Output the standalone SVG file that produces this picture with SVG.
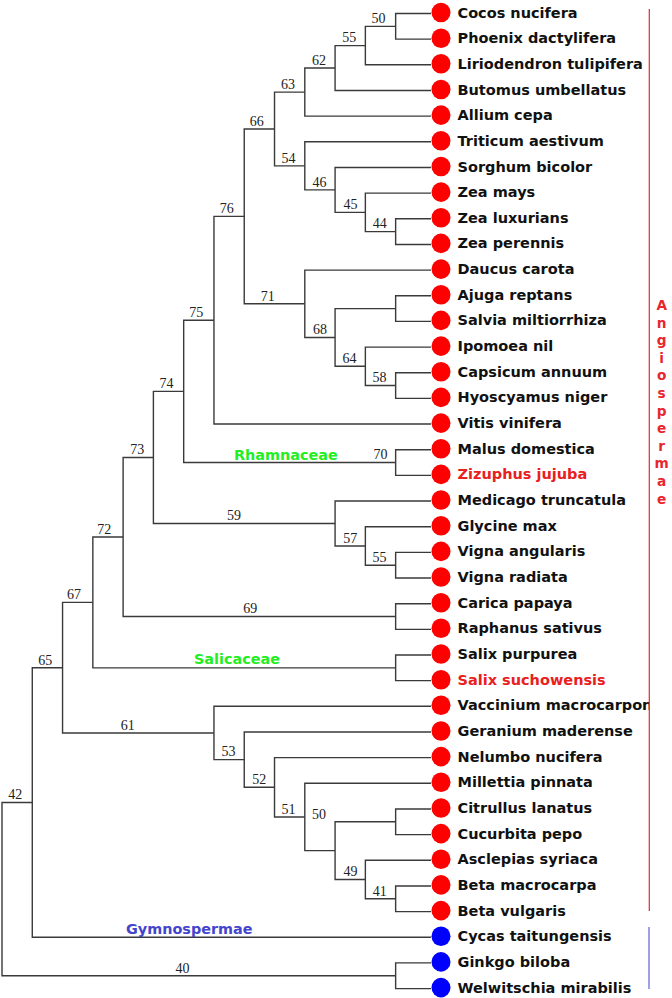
<svg xmlns="http://www.w3.org/2000/svg" width="672" height="998" viewBox="0 0 672 998">
<style>
.br{fill:none;stroke:#3a3a3a;stroke-width:1.4}
.lf{font-family:"DejaVu Sans",Verdana,sans-serif;font-weight:bold;font-size:14.5px;fill:#111}
.hl{fill:#e82020}
.r{fill:#ff0000}
.b{fill:#0000ff}
.bs{font-family:"Liberation Serif","Times New Roman",serif;font-size:14px;fill:#222;text-anchor:middle}
.grp{font-family:"DejaVu Sans",Verdana,sans-serif;font-weight:bold;font-size:14.4px}
.ang{font-family:"DejaVu Sans",Verdana,sans-serif;font-weight:bold;font-size:13.7px;fill:#e8262e;text-anchor:middle}
</style>
<defs>
<clipPath id="cutR"><rect x="0" y="0" width="649" height="998"/></clipPath>
</defs>
<rect width="672" height="998" fill="#fff"/>
<g id="connectors">
<path class="br" d="M431 13.5 H395.64 V39.16 H431"/>
<path class="br" d="M395.64 26.33 H365.36 V64.82 H431"/>
<path class="br" d="M365.36 45.58 H335.08 V90.48 H431"/>
<path class="br" d="M335.08 68.03 H304.8 V116.14 H431"/>
<path class="br" d="M431 218.78 H395.64 V244.44 H431"/>
<path class="br" d="M431 193.12 H365.36 V231.61 H395.64"/>
<path class="br" d="M431 167.46 H335.08 V212.37 H365.36"/>
<path class="br" d="M431 141.8 H304.8 V189.91 H335.08"/>
<path class="br" d="M304.8 92.08 H274.52 V165.86 H304.8"/>
<path class="br" d="M431 372.74 H395.64 V398.4 H431"/>
<path class="br" d="M431 347.08 H365.36 V385.57 H395.64"/>
<path class="br" d="M431 295.76 H395.64 V321.42 H431"/>
<path class="br" d="M395.64 308.59 H335.08 V366.32 H365.36"/>
<path class="br" d="M431 270.1 H304.8 V337.46 H335.08"/>
<path class="br" d="M274.52 128.97 H244.24 V303.78 H304.8"/>
<path class="br" d="M244.24 216.37 H213.96 V424.06 H431"/>
<path class="br" d="M431 449.72 H395.64 V475.38 H431"/>
<path class="br" d="M213.96 320.22 H183.68 V462.55 H395.64"/>
<path class="br" d="M431 552.36 H395.64 V578.02 H431"/>
<path class="br" d="M431 526.7 H365.36 V565.19 H395.64"/>
<path class="br" d="M431 501.04 H335.08 V545.95 H365.36"/>
<path class="br" d="M183.68 391.38 H153.4 V523.5 H335.08"/>
<path class="br" d="M431 603.68 H395.64 V629.34 H431"/>
<path class="br" d="M153.4 457.44 H123.12 V616.51 H395.64"/>
<path class="br" d="M431 655 H395.64 V680.66 H431"/>
<path class="br" d="M123.12 536.97 H92.84 V667.83 H395.64"/>
<path class="br" d="M431 885.94 H395.64 V911.6 H431"/>
<path class="br" d="M431 860.28 H365.36 V898.77 H395.64"/>
<path class="br" d="M431 808.96 H395.64 V834.62 H431"/>
<path class="br" d="M395.64 821.79 H335.08 V879.53 H365.36"/>
<path class="br" d="M431 783.3 H304.8 V850.66 H335.08"/>
<path class="br" d="M431 757.64 H274.52 V816.98 H304.8"/>
<path class="br" d="M431 731.98 H244.24 V787.31 H274.52"/>
<path class="br" d="M431 706.32 H213.96 V759.65 H244.24"/>
<path class="br" d="M92.84 602.4 H62.56 V732.98 H213.96"/>
<path class="br" d="M62.56 667.69 H32.28 V937.26 H431"/>
<path class="br" d="M431 962.92 H395.64 V988.58 H431"/>
<path class="br" d="M32.28 802.48 H2 V975.75 H395.64"/>
</g>
<g id="support-values" class="bs">
<text x="378.5" y="23.1">50</text>
<text x="349.2" y="42.4">55</text>
<text x="319" y="64.8">62</text>
<text x="288" y="88.9">63</text>
<text x="256.8" y="125.8">66</text>
<text x="288.6" y="162.7">54</text>
<text x="319.5" y="186.7">46</text>
<text x="350.5" y="209.2">45</text>
<text x="379.7" y="228.4">44</text>
<text x="226.7" y="213.2">76</text>
<text x="267.7" y="300.6">71</text>
<text x="196.2" y="317">75</text>
<text x="320" y="334.3">68</text>
<text x="349.6" y="363.1">64</text>
<text x="379.5" y="382.4">58</text>
<text x="166.5" y="388.2">74</text>
<text x="137.3" y="454.2">73</text>
<text x="380.5" y="459.4">70</text>
<text x="234" y="520.3">59</text>
<text x="350.2" y="542.8">57</text>
<text x="379.5" y="562">55</text>
<text x="104.2" y="533.8">72</text>
<text x="250.3" y="613.3">69</text>
<text x="74.1" y="599.2">67</text>
<text x="45.3" y="664.5">65</text>
<text x="127.8" y="729.8">61</text>
<text x="228.4" y="756.4">53</text>
<text x="259.3" y="784.1">52</text>
<text x="288.6" y="813.8">51</text>
<text x="319" y="818.6">50</text>
<text x="350.5" y="876.3">49</text>
<text x="379.7" y="895.6">41</text>
<text x="15.3" y="799.3">42</text>
<text x="182.6" y="972.6">40</text>
</g>
<g id="group-labels" class="grp">
<text x="234" y="459.5" fill="#22ee22">Rhamnaceae</text>
<text x="194" y="664" fill="#22ee22">Salicaceae</text>
<text x="126" y="933.5" fill="#4444cc">Gymnospermae</text>
</g>
<g id="leaves" class="lf">
<g id="leaf-0"><ellipse class="r" cx="441" cy="12.5" rx="9.5" ry="9.8"/><text x="457.5" y="17.5">Cocos nucifera</text></g>
<g id="leaf-1"><ellipse class="r" cx="441" cy="38.2" rx="9.5" ry="9.8"/><text x="457.5" y="43.2">Phoenix dactylifera</text></g>
<g id="leaf-2"><ellipse class="r" cx="441" cy="63.8" rx="9.5" ry="9.8"/><text x="457.5" y="68.8">Liriodendron tulipifera</text></g>
<g id="leaf-3"><ellipse class="r" cx="441" cy="89.5" rx="9.5" ry="9.8"/><text x="457.5" y="94.5">Butomus umbellatus</text></g>
<g id="leaf-4"><ellipse class="r" cx="441" cy="115.1" rx="9.5" ry="9.8"/><text x="457.5" y="120.1">Allium cepa</text></g>
<g id="leaf-5"><ellipse class="r" cx="441" cy="140.8" rx="9.5" ry="9.8"/><text x="457.5" y="145.8">Triticum aestivum</text></g>
<g id="leaf-6"><ellipse class="r" cx="441" cy="166.5" rx="9.5" ry="9.8"/><text x="457.5" y="171.5">Sorghum bicolor</text></g>
<g id="leaf-7"><ellipse class="r" cx="441" cy="192.1" rx="9.5" ry="9.8"/><text x="457.5" y="197.1">Zea mays</text></g>
<g id="leaf-8"><ellipse class="r" cx="441" cy="217.8" rx="9.5" ry="9.8"/><text x="457.5" y="222.8">Zea luxurians</text></g>
<g id="leaf-9"><ellipse class="r" cx="441" cy="243.4" rx="9.5" ry="9.8"/><text x="457.5" y="248.4">Zea perennis</text></g>
<g id="leaf-10"><ellipse class="r" cx="441" cy="269.1" rx="9.5" ry="9.8"/><text x="457.5" y="274.1">Daucus carota</text></g>
<g id="leaf-11"><ellipse class="r" cx="441" cy="294.8" rx="9.5" ry="9.8"/><text x="457.5" y="299.8">Ajuga reptans</text></g>
<g id="leaf-12"><ellipse class="r" cx="441" cy="320.4" rx="9.5" ry="9.8"/><text x="457.5" y="325.4">Salvia miltiorrhiza</text></g>
<g id="leaf-13"><ellipse class="r" cx="441" cy="346.1" rx="9.5" ry="9.8"/><text x="457.5" y="351.1">Ipomoea nil</text></g>
<g id="leaf-14"><ellipse class="r" cx="441" cy="371.7" rx="9.5" ry="9.8"/><text x="457.5" y="376.7">Capsicum annuum</text></g>
<g id="leaf-15"><ellipse class="r" cx="441" cy="397.4" rx="9.5" ry="9.8"/><text x="457.5" y="402.4">Hyoscyamus niger</text></g>
<g id="leaf-16"><ellipse class="r" cx="441" cy="423.1" rx="9.5" ry="9.8"/><text x="457.5" y="428.1">Vitis vinifera</text></g>
<g id="leaf-17"><ellipse class="r" cx="441" cy="448.7" rx="9.5" ry="9.8"/><text x="457.5" y="453.7">Malus domestica</text></g>
<g id="leaf-18"><ellipse class="r" cx="441" cy="474.4" rx="9.5" ry="9.8"/><text class="hl" x="457.5" y="479.4">Zizuphus jujuba</text></g>
<g id="leaf-19"><ellipse class="r" cx="441" cy="500" rx="9.5" ry="9.8"/><text x="457.5" y="505">Medicago truncatula</text></g>
<g id="leaf-20"><ellipse class="r" cx="441" cy="525.7" rx="9.5" ry="9.8"/><text x="457.5" y="530.7">Glycine max</text></g>
<g id="leaf-21"><ellipse class="r" cx="441" cy="551.4" rx="9.5" ry="9.8"/><text x="457.5" y="556.4">Vigna angularis</text></g>
<g id="leaf-22"><ellipse class="r" cx="441" cy="577" rx="9.5" ry="9.8"/><text x="457.5" y="582">Vigna radiata</text></g>
<g id="leaf-23"><ellipse class="r" cx="441" cy="602.7" rx="9.5" ry="9.8"/><text x="457.5" y="607.7">Carica papaya</text></g>
<g id="leaf-24"><ellipse class="r" cx="441" cy="628.3" rx="9.5" ry="9.8"/><text x="457.5" y="633.3">Raphanus sativus</text></g>
<g id="leaf-25"><ellipse class="r" cx="441" cy="654" rx="9.5" ry="9.8"/><text x="457.5" y="659">Salix purpurea</text></g>
<g id="leaf-26"><ellipse class="r" cx="441" cy="679.7" rx="9.5" ry="9.8"/><text class="hl" x="457.5" y="684.7">Salix suchowensis</text></g>
<g id="leaf-27"><ellipse class="r" cx="441" cy="705.3" rx="9.5" ry="9.8"/><text x="457.5" y="710.3" clip-path="url(#cutR)">Vaccinium macrocarpon</text></g>
<g id="leaf-28"><ellipse class="r" cx="441" cy="731" rx="9.5" ry="9.8"/><text x="457.5" y="736">Geranium maderense</text></g>
<g id="leaf-29"><ellipse class="r" cx="441" cy="756.6" rx="9.5" ry="9.8"/><text x="457.5" y="761.6">Nelumbo nucifera</text></g>
<g id="leaf-30"><ellipse class="r" cx="441" cy="782.3" rx="9.5" ry="9.8"/><text x="457.5" y="787.3">Millettia pinnata</text></g>
<g id="leaf-31"><ellipse class="r" cx="441" cy="808" rx="9.5" ry="9.8"/><text x="457.5" y="813">Citrullus lanatus</text></g>
<g id="leaf-32"><ellipse class="r" cx="441" cy="833.6" rx="9.5" ry="9.8"/><text x="457.5" y="838.6">Cucurbita pepo</text></g>
<g id="leaf-33"><ellipse class="r" cx="441" cy="859.3" rx="9.5" ry="9.8"/><text x="457.5" y="864.3">Asclepias syriaca</text></g>
<g id="leaf-34"><ellipse class="r" cx="441" cy="884.9" rx="9.5" ry="9.8"/><text x="457.5" y="889.9">Beta macrocarpa</text></g>
<g id="leaf-35"><ellipse class="r" cx="441" cy="910.6" rx="9.5" ry="9.8"/><text x="457.5" y="915.6">Beta vulgaris</text></g>
<g id="leaf-36"><ellipse class="b" cx="441" cy="936.3" rx="9.5" ry="9.8"/><text x="457.5" y="941.3">Cycas taitungensis</text></g>
<g id="leaf-37"><ellipse class="b" cx="441" cy="961.9" rx="9.5" ry="9.8"/><text x="457.5" y="966.9">Ginkgo biloba</text></g>
<g id="leaf-38"><ellipse class="b" cx="441" cy="987.6" rx="9.5" ry="9.8"/><text x="457.5" y="992.6">Welwitschia mirabilis</text></g>
</g>
<g id="bracket-angiospermae">
<path d="M649.3 9 V911" stroke="#e82828" stroke-width="1.2" fill="none"/>
<text class="ang" x="661.7" y="310">A<tspan x="661.7" dy="17.6">n</tspan><tspan x="661.7" dy="17.6">g</tspan><tspan x="661.7" dy="17.6">i</tspan><tspan x="661.7" dy="17.6">o</tspan><tspan x="661.7" dy="17.6">s</tspan><tspan x="661.7" dy="17.6">p</tspan><tspan x="661.7" dy="17.6">e</tspan><tspan x="661.7" dy="17.6">r</tspan><tspan x="661.7" dy="17.6">m</tspan><tspan x="661.7" dy="17.6">a</tspan><tspan x="661.7" dy="17.6">e</tspan></text>
</g>
<g id="bracket-gymnospermae">
<path d="M649 927 V989" stroke="#5a64d0" stroke-width="1.2" fill="none"/>
</g>
</svg>
